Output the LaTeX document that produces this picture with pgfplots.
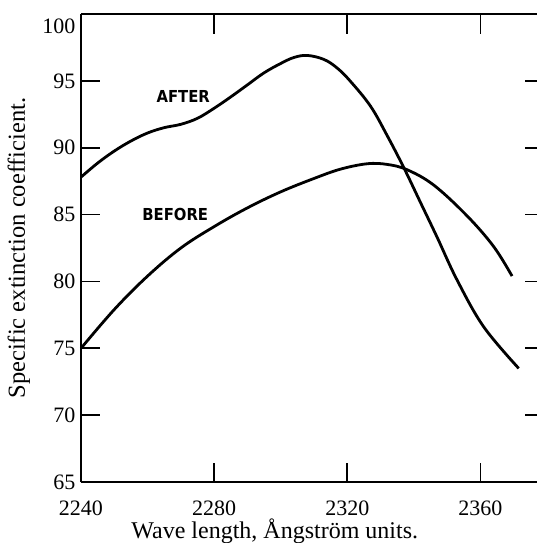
\documentclass[border=0pt]{standalone}
\usepackage{fontspec}
\setmainfont{Liberation Serif}
\newfontfamily\curvefont{DejaVu Sans Condensed}
\usepackage{pgfplots}
\pgfplotsset{compat=1.18}

\pgfplotsset{
  common/.style={
    width=456pt, height=468pt, scale only axis,
    xmin=2240, xmax=2377, ymin=65, ymax=100,
    tick align=inside,
    axis line style={line width=2.2pt, black},
    tick style={line width=1.6pt, black},
    /pgf/number format/assume math mode=true,
    /pgf/number format/1000 sep={},
    ticklabel style={font=\fontsize{22}{22}\selectfont},
  }
}

\begin{document}
\begin{tikzpicture}
% bottom and left axis, with labels and the two curves
\begin{axis}[common,
  axis x line*=bottom, axis y line*=left,
  xtick={2240,2280,2320,2360},
  ytick={65,70,...,95},
  extra y ticks={100},
  extra y tick style={yticklabel style={yshift=-12pt}, major tick length=0pt},
  major tick length=19pt,
  xticklabel style={inner sep=0.5pt, yshift=-18pt},
  yticklabel style={xshift=-2pt},
  xlabel={Wave length, Ångström units.},
  ylabel={Specific extinction coefficient.},
  xlabel style={font=\fontsize{24}{25}\selectfont, inner sep=0.5pt, at={(axis description cs:0.425,-0.121)}, anchor=base},
  ylabel style={font=\fontsize{24.5}{25}\selectfont, at={(axis description cs:-0.104,0.5)}, anchor=south},
  clip=false,
]
\coordinate (ll) at (rel axis cs:0,0);

% AFTER
\addplot[smooth, tension=0.6, line width=2.8pt, black] coordinates {
  (2240,87.8) (2245,88.85) (2250,89.75) (2255,90.5) (2260,91.1) (2265,91.5)
  (2270,91.75) (2275,92.2) (2280,92.95) (2285,93.8) (2290,94.7) (2295,95.6)
  (2300,96.3) (2304,96.75) (2308,96.9) (2313,96.6) (2317,95.95) (2321,94.95)
  (2327,93.1) (2332,90.9) (2337,88.5) (2342,85.9) (2347,83.3) (2353,80.1)
  (2361,76.6) (2371.5,73.5)
};
% BEFORE
\addplot[smooth, tension=0.6, line width=2.8pt, black] coordinates {
  (2240,75.0) (2250,77.9) (2260,80.4) (2270,82.5) (2280,84.1) (2290,85.5)
  (2300,86.7) (2310,87.7) (2318,88.4) (2326,88.8) (2332,88.75) (2338,88.35)
  (2346,87.2) (2356,84.9) (2364,82.6) (2369.5,80.4)
};

\node[font=\curvefont\bfseries\fontsize{16.5}{17}\selectfont] at (axis cs:2270.7,93.8) {AFTER};
\node[font=\curvefont\bfseries\fontsize{16.5}{17}\selectfont] at (axis cs:2268.3,85.0) {BEFORE};
\end{axis}

% top axis line and its ticks
\begin{axis}[common,
  axis x line*=top, axis y line=none,
  xtick={2280,2320,2360}, xticklabels={},
  ytick=\empty,
  major tick length=20pt,
]
\end{axis}

% right ticks, no line
\begin{axis}[common,
  axis y line*=right, axis x line=none,
  y axis line style={draw=none},
  ytick={70,75,...,95}, yticklabels={},
  xtick=\empty,
  major tick length=12pt,
]
\end{axis}

\pgfresetboundingbox
\path[use as bounding box] ([shift={(-81pt,-61pt)}]ll) rectangle ([shift={(456pt,482pt)}]ll);
\end{tikzpicture}
\end{document}
